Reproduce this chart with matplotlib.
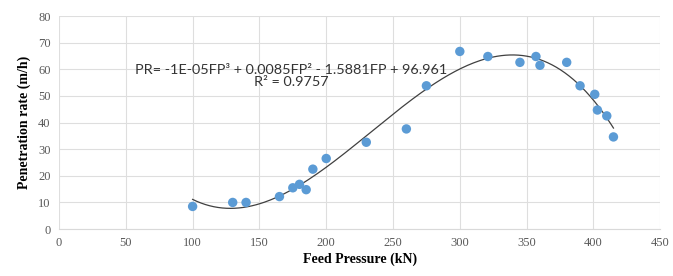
import matplotlib
matplotlib.use('Agg')
import matplotlib.pyplot as plt
import numpy as np

# feed pressure (kN) and penetration rate (m/h)
feed_pressure = [100, 130, 140, 165, 175, 180, 185, 190, 200, 230, 260, 275,
                 300, 321, 345, 357, 360, 380, 390, 401, 403, 410, 415]
penetration_rate = [8.5, 10, 10, 12.2, 15.5, 16.8, 14.8, 22.5, 26.5, 32.6, 37.6, 53.8,
                    66.7, 64.8, 62.6, 64.8, 61.5, 62.6, 53.8, 50.6, 44.7, 42.5, 34.6]

equation_text = 'PR= -1E-05FP³ + 0.0085FP² - 1.5881FP + 96.961\nR² = 0.9757'

x_ticks = np.arange(0, 451, 50)
y_ticks = np.arange(0, 81, 10)

fig = plt.figure(figsize=(6.73, 2.76), dpi=100)
ax = fig.add_axes([0.0877, 0.170, 0.8933, 0.772])

# third order trendline, like the spreadsheet one
coeffs = np.polyfit(feed_pressure, penetration_rate, 3)
xs = np.linspace(min(feed_pressure), max(feed_pressure), 200)
ax.plot(xs, np.polyval(coeffs, xs), color='#404040', lw=0.9, zorder=2)

ax.scatter(feed_pressure, penetration_rate, s=46, color='#5B9BD5',
           edgecolors='none', zorder=3)

ax.set_xlim(0, 450)
ax.set_ylim(0, 80)
ax.set_xticks(x_ticks)
ax.set_yticks(y_ticks)
ax.grid(True, color='#dedede', lw=0.8)
ax.set_axisbelow(True)
for side in ['top', 'right', 'left']:
    ax.spines[side].set_visible(False)
ax.spines['bottom'].set_color('#d9d9d9')
ax.tick_params(length=0, labelsize=9, colors='#595959', pad=6)
for lbl in ax.get_xticklabels() + ax.get_yticklabels():
    lbl.set_fontfamily('Liberation Serif')

ax.text(174, 57.6, equation_text, ha='center', va='center', fontsize=10.4,
        family='Lato', color='#333333', linespacing=1.0)

ax.set_xlabel('Feed Pressure (kN)', family='Liberation Serif', fontweight='bold',
              fontsize=10, labelpad=2)
ax.set_ylabel('Penetration rate (m/h)', family='Liberation Serif', fontweight='bold',
              fontsize=10, labelpad=5)

fig.savefig('out.png', dpi=100)
